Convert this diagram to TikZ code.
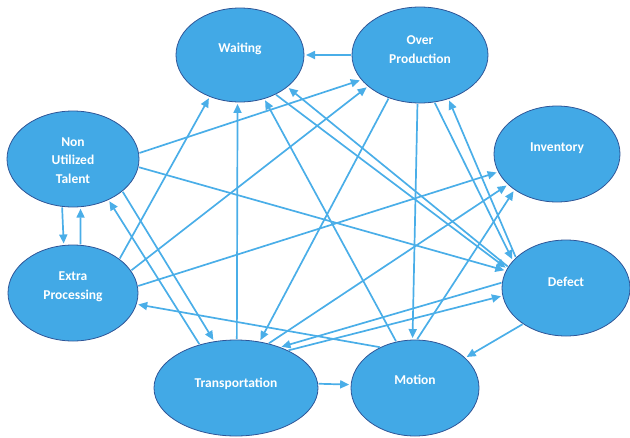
\documentclass[tikz,border=0pt]{standalone}
\usepackage{fontspec}
\setmainfont{Carlito}
\usetikzlibrary{shapes.geometric,arrows.meta}
\definecolor{wfill}{RGB}{66,169,230}
\definecolor{wborder}{RGB}{47,85,151}
\definecolor{wline}{RGB}{74,174,232}
\begin{document}
\begin{tikzpicture}[x=1pt,y=-1pt,
  waste/.style={ellipse,fill=wfill,draw=wborder,line width=0.8pt,inner sep=0pt,outer sep=0pt},
  wlabel/.style={text=white,font=\fontsize{13.5}{18.3}\selectfont\bfseries,align=center,inner sep=0pt,anchor=base},
  link/.style={draw=wline,line width=1.7pt,-{Triangle[length=9pt,width=8pt]},shorten >=2pt,shorten <=1pt}]
\useasboundingbox (0,0) rectangle (630,437);
% nodes
\node[waste,minimum width=128pt,minimum height=94pt] (W) at (240,55) {};
\node[waste,minimum width=136pt,minimum height=96pt] (OP) at (420,55) {};
\node[waste,minimum width=126pt,minimum height=96pt] (INV) at (557,154) {};
\node[waste,minimum width=132pt,minimum height=96pt] (NUT) at (73,159) {};
\node[waste,minimum width=130pt,minimum height=96pt] (EP) at (73,293) {};
\node[waste,minimum width=164pt,minimum height=96pt] (T) at (236,388) {};
\node[waste,minimum width=128pt,minimum height=96pt] (M) at (415,388) {};
\node[waste,minimum width=128pt,minimum height=96pt] (D) at (566,288) {};
% labels (base = baseline of last line)
\node[wlabel] (Wt) at (240,52) {Waiting};
\node[wlabel] (OPt) at (420,63) {Over\\Production};
\node[wlabel] (INVt) at (557,151) {Inventory};
\node[wlabel] (NUTt) at (73,183) {Non\\Utilized\\Talent};
\node[wlabel] (EPt) at (73,299) {Extra\\Processing};
\node[wlabel] (Tt) at (236,387) {Transportation};
\node[wlabel] (Mt) at (415,384) {Motion};
\node[wlabel] (Dt) at (566,286) {Defect};
% connectors
\draw[link] (OP.180) -- (W.0);
\draw[link] (NUT.5) -- (OP.-157.6);
\draw[link] (EP.21) -- (OP.-149);
\draw[link] (EP.36) -- (W.-126);
\draw[link] (T.89) -- (W.-93);
\draw[link] (M.112.5) -- (W.-61.6);
\draw[link] (D.160.4) -- (W.-34.9);
\draw[link] (W.-48.6) -- (D.162.6);
\draw[link] (OP.-126.7) -- (T.63);
\draw[link] (OP.-93.4) -- (M.93);
\draw[link] (OP.-73.9) -- (D.153.4);
\draw[link] (D.149.7) -- (OP.-57.6);
\draw[link] (NUT.-7.4) -- (D.164.7);
\draw[link] (NUT.-33.4) -- (T.115.2);
\draw[link] (T.130) -- (NUT.-49.4);
\draw[link] (NUT.-103) -- (EP.101);
\draw[link] (EP.81) -- (NUT.-81);
\draw[link] (EP.6.6) -- (INV.-163.3);
\draw[link] (M.130.2) -- (EP.-10.5);
\draw[link] (T.3) -- (M.177);
\draw[link] (T.54.6) -- (INV.-148.6);
\draw[link] (D.175.5) -- (T.43.1);
\draw[link] (T.36.3) -- (D.-173.3);
\draw[link] (M.88) -- (INV.-140.3);
\draw[link] (D.-140) -- (M.31.1);
\end{tikzpicture}
\end{document}
